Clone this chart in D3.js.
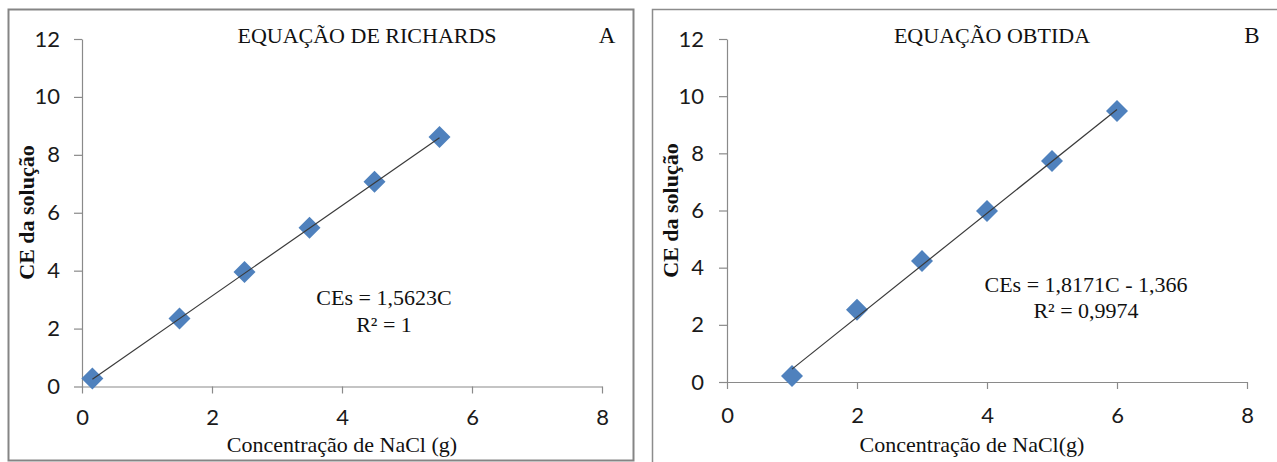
<!DOCTYPE html>
<html>
<head>
<meta charset="utf-8">
<script src="https://cdn.jsdelivr.net/npm/d3@7"></script>
<style>
html,body{margin:0;padding:0;background:#fff;}
svg{display:block;}
</style>
</head>
<body>
<svg id="chart" width="1277" height="462"></svg>
<script>
// ---- data ----
const xTicks = [0, 2, 4, 6, 8];
const yTicks = [0, 2, 4, 6, 8, 10, 12];

const concA = [0.16, 1.5, 2.5, 3.5, 4.5, 5.5];
const ceA   = [0.28, 2.35, 3.95, 5.48, 7.07, 8.62];
const slopeA = 1.5623, interceptA = 0;

const concB = [1, 2, 3, 4, 5, 6];
const ceB   = [0.21, 2.53, 4.23, 5.98, 7.73, 9.48];
const slopeB = 1.8171, interceptB = -1.366;

const titles = ["EQUAÇÃO DE RICHARDS", "EQUAÇÃO OBTIDA"];
const letters = ["A", "B"];
const xTitles = ["Concentração de NaCl (g)", "Concentração de NaCl(g)"];
const yTitle = "CE da solução";
const eqLines = [["CEs = 1,5623C", "R² = 1"], ["CEs = 1,8171C - 1,366", "R² = 0,9974"]];

const svg = d3.select("#chart");
const serif = "'Liberation Serif','Times New Roman',serif";
const sans = "Lato, 'Open Sans', sans-serif";

// frames
svg.append("rect").attr("x", 8.5).attr("y", 9.5).attr("width", 625).attr("height", 451)
  .attr("fill", "none").attr("stroke", "#858585").attr("stroke-width", 2);
svg.append("rect").attr("x", 652.5).attr("y", 9.5).attr("width", 700).attr("height", 500)
  .attr("fill", "none").attr("stroke", "#8c8c8c").attr("stroke-width", 1.5);

const panels = [
  {x0: 82, x1: 602, y0: 386.5, y1: 39, conc: concA, ce: ceA, slope: slopeA, icpt: interceptA,
   ypad: 14, xpad: 16, titleX: 367, letterX: 607, eqX: 384, eqY: [305, 332],
   xtX: 342, ytX: 27, ytY: 212.5},
  {x0: 727, x1: 1247, y0: 382, y1: 39, conc: concB, ce: ceB, slope: slopeB, icpt: interceptB,
   ypad: 15, xpad: 18, titleX: 992, letterX: 1252, eqX: 1086, eqY: [292, 318],
   xtX: 972, ytX: 671, ytY: 210.5}
];

panels.forEach((p, i) => {
  const x = d3.scaleLinear().domain([0, 8]).range([p.x0, p.x1]);
  const y = d3.scaleLinear().domain([0, 12]).range([p.y0, p.y1]);
  const g = svg.append("g");

  const yAxis = g.append("g").attr("transform", `translate(${p.x0},0)`)
    .call(d3.axisLeft(y).tickValues(yTicks).tickSize(8).tickPadding(p.ypad).tickSizeOuter(0));
  const xAxis = g.append("g").attr("transform", `translate(0,${p.y0})`)
    .call(d3.axisBottom(x).tickValues(xTicks).tickSize(7).tickPadding(p.xpad).tickSizeOuter(0));
  [yAxis, xAxis].forEach(a => {
    a.selectAll("path,line").attr("stroke", "#8a8a8a").attr("stroke-width", 1.2);
    a.selectAll("text").attr("font-family", sans).attr("font-size", 22).attr("fill", "#1a1a1a");
  });

  // markers
  const n = p.conc.length;
  const pts = d3.range(n).map(k => [p.conc[k], p.ce[k]]);
  g.selectAll("path.pt").data(pts).join("path").attr("class", "pt")
    .attr("d", d => {
      const cx = x(d[0]), cy = y(d[1]), r = 11;
      return `M${cx},${cy - r}L${cx + r},${cy}L${cx},${cy + r}L${cx - r},${cy}Z`;
    })
    .attr("fill", "#4f81bd");

  // trendline
  const xmin = d3.min(p.conc), xmax = d3.max(p.conc);
  g.append("line")
    .attr("x1", x(xmin)).attr("y1", y(p.slope * xmin + p.icpt))
    .attr("x2", x(xmax)).attr("y2", y(p.slope * xmax + p.icpt))
    .attr("stroke", "#3a3a3a").attr("stroke-width", 1.2);

  // texts
  g.append("text").attr("x", p.titleX).attr("y", 43).attr("text-anchor", "middle")
    .attr("font-family", serif).attr("font-size", 22).attr("fill", "#111").text(titles[i]);
  g.append("text").attr("x", p.letterX).attr("y", 43).attr("text-anchor", "middle")
    .attr("font-family", serif).attr("font-size", 23).attr("fill", "#111").text(letters[i]);
  eqLines[i].forEach((t, k) => {
    g.append("text").attr("x", p.eqX).attr("y", p.eqY[k]).attr("text-anchor", "middle")
      .attr("font-family", serif).attr("font-size", 22).attr("fill", "#111").text(t);
  });
  g.append("text").attr("x", p.xtX).attr("y", 452).attr("text-anchor", "middle")
    .attr("font-family", serif).attr("font-size", 22).attr("fill", "#111").text(xTitles[i]);
  g.append("text").attr("transform", `translate(${p.ytX + 7},${p.ytY}) rotate(-90)`)
    .attr("text-anchor", "middle")
    .attr("font-family", serif).attr("font-weight", "bold").attr("font-size", 22).attr("fill", "#111").text(yTitle);
});
</script>
</body>
</html>
